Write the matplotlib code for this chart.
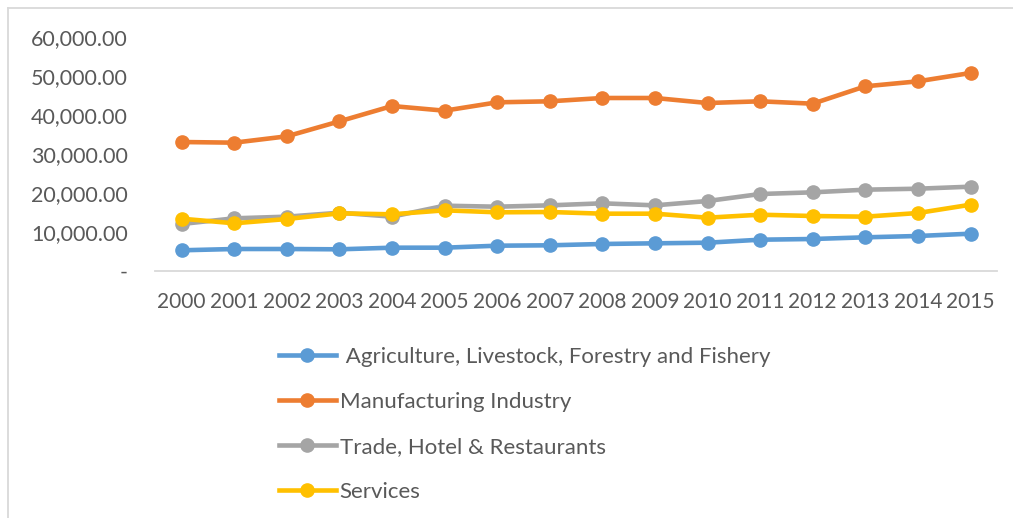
import matplotlib.pyplot as plt
from matplotlib.lines import Line2D
from matplotlib.ticker import FuncFormatter

plt.rcParams['font.family'] = ['Lato', 'DejaVu Sans']

# -------------------------------
# Données
# -------------------------------
years = [str(y) for y in range(2000, 2016)]

agriculture = [5240, 5570, 5570, 5490, 5910, 5910, 6420, 6520,
               6860, 7030, 7190, 7960, 8140, 8570, 8910, 9500]
manufacturing = [33040, 32870, 34500, 38350, 42280, 41080, 43230, 43490,
                 44340, 44340, 43050, 43490, 42880, 47340, 48620, 50760]
trade = [11990, 13450, 13870, 14890, 13870, 16690, 16430, 16780,
         17300, 16780, 17890, 19690, 20120, 20800, 21050, 21570]
services = [13350, 12170, 13270, 14730, 14480, 15500, 14990, 15070,
            14640, 14640, 13610, 14380, 14040, 13870, 14810, 16940]

labels = [' Agriculture, Livestock, Forestry and Fishery',
          'Manufacturing Industry',
          'Trade, Hotel & Restaurants',
          'Services']
colors = ['#5B9BD5', '#ED7D31', '#A5A5A5', '#FFC000']
series = [agriculture, manufacturing, trade, services]

text_col = '#595959'
W, H = 1013, 518

# -------------------------------
# Figure
# -------------------------------
fig = plt.figure(figsize=(W / 100, H / 100), dpi=100)
ax = fig.add_axes([155.4 / W, 1 - 270.7 / H, (996.8 - 155.4) / W, (270.7 - 37) / H])

x = list(range(len(years)))
for vals, c in zip(series, colors):
    ax.plot(x, vals, color=c, lw=3.3, marker='o', markersize=9.5,
            solid_capstyle='round', clip_on=False)

ax.set_xlim(-0.5, len(years) - 0.5)
ax.set_ylim(0, 60000)
ax.set_yticks(range(0, 60001, 10000))
ax.yaxis.set_major_formatter(FuncFormatter(lambda v, p: '-' if v == 0 else f'{v:,.2f}'))
ax.set_xticks(x)
ax.set_xticklabels(years)
ax.tick_params(axis='both', length=0, colors=text_col)
ax.tick_params(axis='y', pad=20, labelsize=15.5)
ax.tick_params(axis='x', pad=15.5, labelsize=15)

for s in ['top', 'right', 'left']:
    ax.spines[s].set_visible(False)
ax.spines['bottom'].set_color('#D9D9D9')
ax.spines['bottom'].set_linewidth(1.3)

# Légende en colonne sous le graphique
handles = [Line2D([], [], color=c, lw=3.3, marker='o', markersize=9.5) for c in colors]
leg = fig.legend(handles, labels, loc='upper left', bbox_to_anchor=(279 / W, 1 - 347 / H),
                 frameon=False, fontsize=16, handlelength=2.55, handletextpad=0.18,
                 labelspacing=1.12, borderpad=0, borderaxespad=0)
for t in leg.get_texts():
    t.set_color(text_col)

# Cadre (bords gauche et haut)
fig.add_artist(Line2D([8 / W, 8 / W], [0, 1 - 8 / H], color='#D9D9D9', lw=1.3))
fig.add_artist(Line2D([8 / W, 1], [1 - 8 / H, 1 - 8 / H], color='#D9D9D9', lw=1.3))

fig.savefig('out.png', dpi=100)
